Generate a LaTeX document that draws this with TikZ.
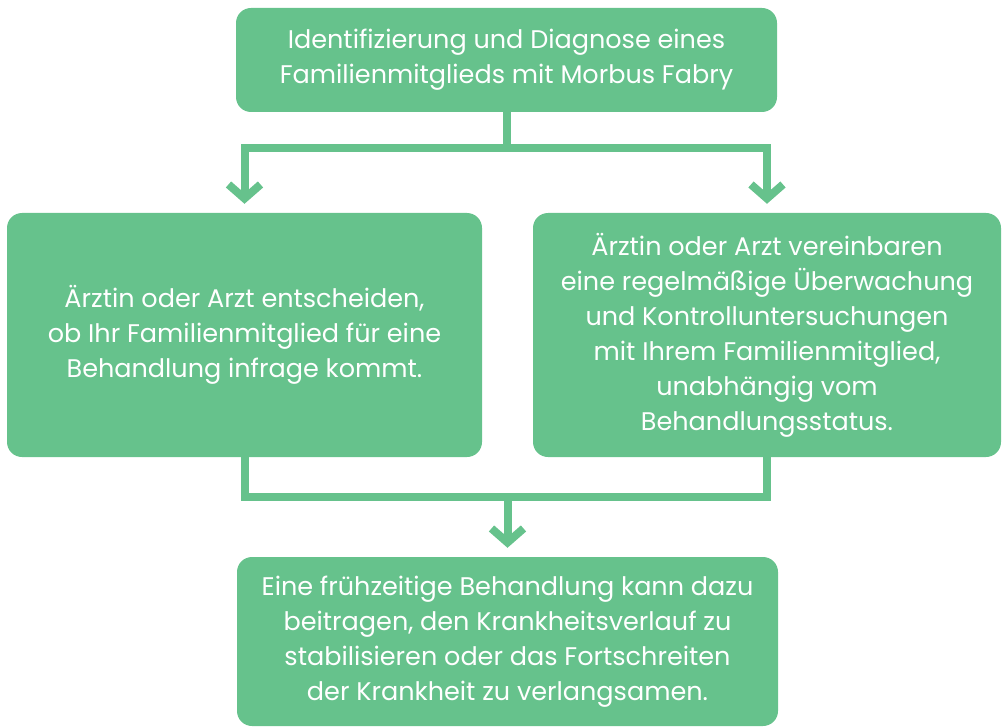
\documentclass[tikz,border=0pt]{standalone}
\usepackage{fontspec}
\setmainfont{Poppins}
\usetikzlibrary{positioning,arrows.meta}
\definecolor{fabrygreen}{RGB}{102,194,140}

\begin{document}
\begin{tikzpicture}[x=1pt,y=-1pt,
    box/.style={fill=fabrygreen, rounded corners=15pt, text=white, align=center,
      inner sep=0pt, font=\fontsize{25.5}{35}\selectfont},
    link/.style={draw=fabrygreen, line width=8pt, line join=miter},
    chev/.style={-{Straight Barb[length=14pt,width=32pt]}, shorten >=9pt}]

    \useasboundingbox (0,0) rectangle (1003,727);

    % Boxes
    \node[box, minimum width=541pt, minimum height=104pt] (diag) at (506.5,60)
      {Identifizierung und Diagnose eines\\Familienmitglieds mit Morbus Fabry};
    \node[box, minimum width=475pt, minimum height=244pt] (treat) at (244.5,335)
      {Ärztin oder Arzt entscheiden,\\ob Ihr Familienmitglied für eine\\Behandlung infrage kommt.};
    \node[box, minimum width=468pt, minimum height=244pt] (watch) at (767,335)
      {Ärztin oder Arzt vereinbaren\\eine regelmäßige Überwachung\\und Kontrolluntersuchungen\\mit Ihrem Familienmitglied,\\unabhängig vom\\Behandlungsstatus.};
    \node[box, minimum width=541pt, minimum height=169pt] (early) at (507.5,641.5)
      {Eine frühzeitige Behandlung kann dazu\\beitragen, den Krankheitsverlauf zu\\stabilisieren oder das Fortschreiten\\der Krankheit zu verlangsamen.};

    % Split from the top box
    \draw[link] (diag.south) -- ++(0,36) coordinate (split);
    \draw[link, chev] (split -| treat.north) -- (treat.north);
    \draw[link, chev] (split -| watch.north) -- (watch.north);
    \draw[link, line cap=rect] (split -| treat.north) -- (split -| watch.north);

    % Join into the bottom box
    \draw[link] (treat.south) -- ++(0,40) coordinate (merge) -| (watch.south);
    \draw[link, chev] (merge -| early.north) -- (early.north);
\end{tikzpicture}
\end{document}
